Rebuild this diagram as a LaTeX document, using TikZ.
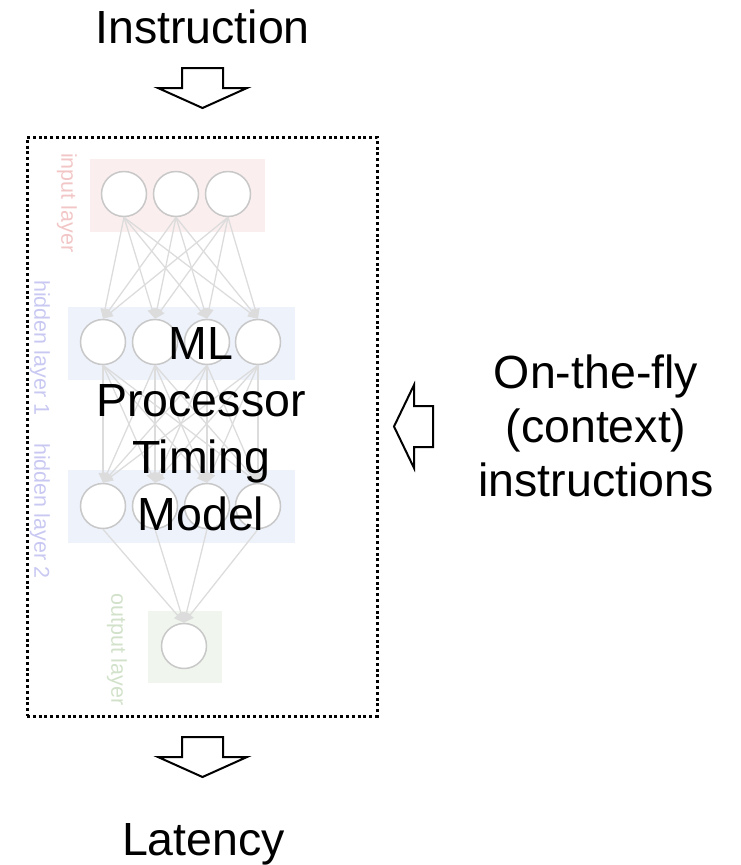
\documentclass[tikz,border=0pt]{standalone}
\usepackage{fontspec}
\setmainfont{Liberation Sans}
\usetikzlibrary{arrows.meta}
\definecolor{inband}{HTML}{FBEEEE}
\definecolor{hidband}{HTML}{EEF2FB}
\definecolor{outband}{HTML}{F0F6EE}
\definecolor{inlab}{HTML}{F2C6C6}
\definecolor{hidlab}{HTML}{C8C8F2}
\definecolor{outlab}{HTML}{D2E2CA}
\definecolor{edgegray}{HTML}{DCDCDC}
\definecolor{ringgray}{HTML}{C8C8C8}
\begin{document}
\begin{tikzpicture}[x=1pt,y=-1pt,
  neuron/.style={circle,draw=ringgray,line width=1.5pt,fill=white,minimum size=45pt,inner sep=0pt},
  link/.style={draw=edgegray,line width=1.3pt,-{Triangle[length=10pt,width=9pt]}},
  layerlab/.style={font=\fontsize{21.5}{24}\selectfont,rotate=-90,inner sep=0pt,anchor=west},
  bigtext/.style={font=\fontsize{46.5}{56.7}\selectfont,align=center,inner sep=0pt},
  fatarrow/.style={draw=black,line width=2pt,fill=white,line join=miter},
  dotbox/.style={draw=black,line width=3pt,dash pattern=on 3pt off 2.8pt,minimum width=350pt,minimum height=579pt,inner sep=0pt}
]
\useasboundingbox (0,0) rectangle (741,865);

% the model frame
\node[dotbox] (model) at (202,426.5) {};

% layer bands
\fill[inband]  (90,159) rectangle (265,232);
\fill[hidband] (68,307) rectangle (295,380);
\fill[hidband] (68,470) rectangle (295,543);
\fill[outband] (148,611) rectangle (222,683);

% layer labels
\node[layerlab,text=inlab]  (labin)  at (67,153)  {input layer};
\node[layerlab,text=hidlab] (labh1)  at (40,280)  {hidden layer 1};
\node[layerlab,text=hidlab] (labh2)  at (40,443)  {hidden layer 2};
\node[layerlab,text=outlab] (labout) at (117,593) {output layer};

% neurons
\foreach \n/\x in {i1/124,i2/176,i3/228}
  \node[neuron] (\n) at (\x,194) {};
\foreach \n/\x in {h1/103,h2/155,h3/207,h4/258}
  \node[neuron] (\n) at (\x,342) {};
\foreach \n/\x in {g1/103,g2/155,g3/207,g4/258}
  \node[neuron] (\n) at (\x,506) {};
\node[neuron] (o) at (184,646) {};

% weights
\foreach \a in {i1,i2,i3}
  \foreach \b in {h1,h2,h3,h4}
    \draw[link] (\a.south) -- (\b.north);
\foreach \a in {h1,h2,h3,h4}
  \foreach \b in {g1,g2,g3,g4}
    \draw[link] (\a.south) -- (\b.north);
\foreach \a in {g1,g2,g3,g4}
  \draw[link] (\a.south) -- (o.north);

% model caption (base = last line)
\node[bigtext,anchor=base] (ml) at (201,530) {ML\\Processor\\Timing\\Model};

% inputs and output
\node[bigtext,anchor=base] (instr) at (202.5,43) {Instruction};
\node[bigtext,anchor=base] (lat) at (203.5,855) {Latency};
\node[bigtext,anchor=base,font=\fontsize{46.5}{54}\selectfont] (ctx) at (596,496) {On-the-fly\\(context)\\instructions};

% block arrows
\draw[fatarrow] (182,68) -- (223,68) -- (223,88) -- (247,88) -- (202.5,108) -- (158,88) -- (182,88) -- cycle;
\draw[fatarrow] (182,737) -- (223,737) -- (223,757) -- (247,757) -- (202.5,777) -- (158,757) -- (182,757) -- cycle;
\draw[fatarrow] (433,406) -- (433,447) -- (414,447) -- (414,468) -- (394,426.5) -- (414,385) -- (414,406) -- cycle;
\end{tikzpicture}
\end{document}
